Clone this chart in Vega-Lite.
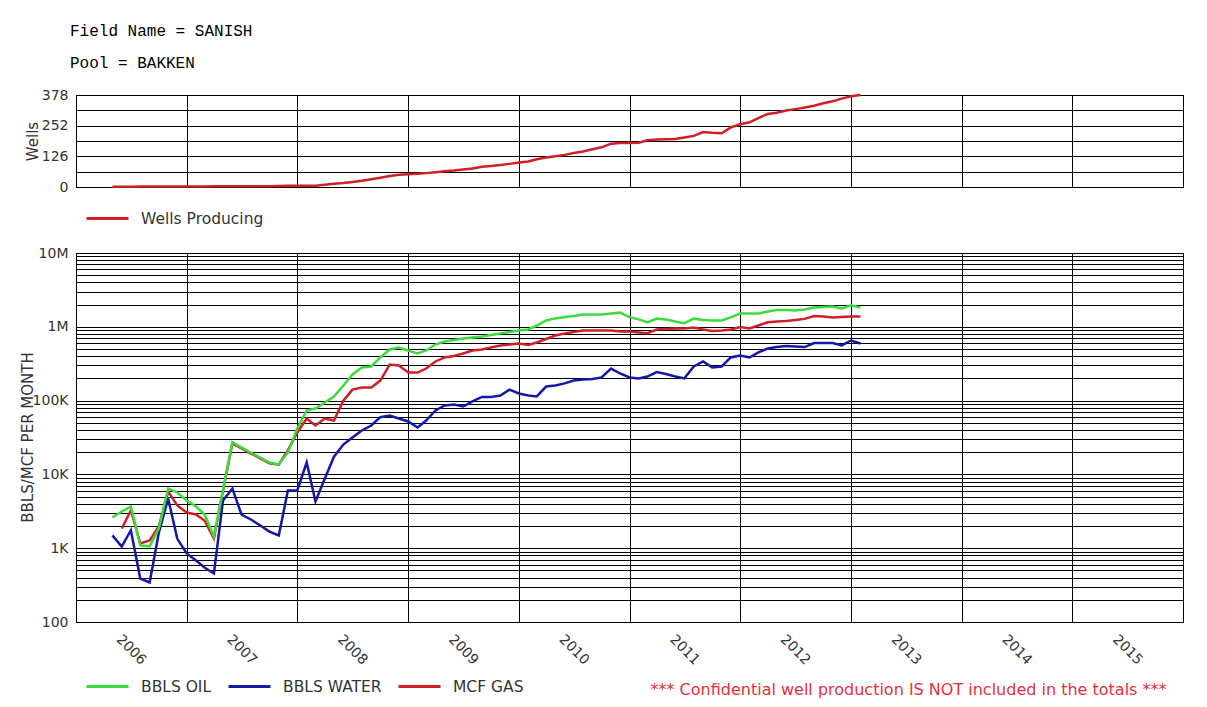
{
  "$schema": "https://vega.github.io/schema/vega-lite/v6.json",
  "background": "white",
  "padding": {"left": 19, "top": 22, "right": 20, "bottom": 5},
  "title": {"text": "Field Name = SANISH", "subtitle": "Pool = BAKKEN", "anchor": "start", "frame": "group", "font": "Liberation Mono", "fontSize": 16, "fontWeight": "normal", "color": "#000", "subtitleFont": "Liberation Mono", "subtitleFontSize": 16, "subtitleColor": "#000", "subtitlePadding": 16, "offset": 17, "dx": -6},
  "datasets": {
    "prod": [
      {"date": "2006-05-01", "oil": 2610, "gas": null, "water": 1490, "wells": 1},
      {"date": "2006-06-01", "oil": 3140, "gas": 1850, "water": 1050, "wells": 1},
      {"date": "2006-07-01", "oil": 3670, "gas": 3240, "water": 1750, "wells": 1},
      {"date": "2006-08-01", "oil": 1090, "gas": 1160, "water": 388, "wells": 2},
      {"date": "2006-09-01", "oil": 1060, "gas": 1270, "water": 343, "wells": 2},
      {"date": "2006-10-01", "oil": 1850, "gas": 1970, "water": 1600, "wells": 2},
      {"date": "2006-11-01", "oil": 6440, "gas": 5870, "water": 4720, "wells": 2},
      {"date": "2006-12-01", "oil": 5690, "gas": 3790, "water": 1350, "wells": 2},
      {"date": "2007-01-01", "oil": 4430, "gas": 3050, "water": 848, "wells": 2},
      {"date": "2007-02-01", "oil": 3670, "gas": 2870, "water": 681, "wells": 2},
      {"date": "2007-03-01", "oil": 2860, "gas": 2370, "water": 547, "wells": 2},
      {"date": "2007-04-01", "oil": 1440, "gas": 1350, "water": 454, "wells": 3},
      {"date": "2007-05-01", "oil": 6240, "gas": 6050, "water": 4430, "wells": 3},
      {"date": "2007-06-01", "oil": 27300, "gas": 26300, "water": 6440, "wells": 3},
      {"date": "2007-07-01", "oil": 23100, "gas": 22500, "water": 2860, "wells": 3},
      {"date": "2007-08-01", "oil": 19800, "gas": 19300, "water": 2450, "wells": 3},
      {"date": "2007-09-01", "oil": 16900, "gas": 16500, "water": 2030, "wells": 3},
      {"date": "2007-10-01", "oil": 14500, "gas": 14100, "water": 1680, "wells": 3},
      {"date": "2007-11-01", "oil": 13600, "gas": 13600, "water": 1490, "wells": 4},
      {"date": "2007-12-01", "oil": 19800, "gas": 21200, "water": 6050, "wells": 5},
      {"date": "2008-01-01", "oil": 41900, "gas": 37000, "water": 6050, "wells": 5},
      {"date": "2008-02-01", "oil": 73500, "gas": 57200, "water": 14500, "wells": 5},
      {"date": "2008-03-01", "oil": 78200, "gas": 46000, "water": 4300, "wells": 5},
      {"date": "2008-04-01", "oil": 94200, "gas": 57200, "water": 8790, "wells": 9},
      {"date": "2008-05-01", "oil": 113700, "gas": 53700, "water": 17400, "wells": 13},
      {"date": "2008-06-01", "oil": 160000, "gas": 100000, "water": 25400, "wells": 16},
      {"date": "2008-07-01", "oil": 226000, "gas": 141000, "water": 31600, "wells": 21},
      {"date": "2008-08-01", "oil": 281000, "gas": 150000, "water": 39400, "wells": 26},
      {"date": "2008-09-01", "oil": 290000, "gas": 150000, "water": 46000, "wells": 32},
      {"date": "2008-10-01", "oil": 384000, "gas": 187000, "water": 59600, "wells": 38},
      {"date": "2008-11-01", "oil": 493000, "gas": 308000, "water": 62800, "wells": 45},
      {"date": "2008-12-01", "oil": 525000, "gas": 299000, "water": 57200, "wells": 50},
      {"date": "2009-01-01", "oil": 478000, "gas": 240000, "water": 52100, "wells": 52},
      {"date": "2009-02-01", "oil": 435000, "gas": 240000, "water": 43200, "wells": 54},
      {"date": "2009-03-01", "oil": 478000, "gas": 272000, "water": 53700, "wells": 57},
      {"date": "2009-04-01", "oil": 575000, "gas": 339000, "water": 73500, "wells": 61},
      {"date": "2009-05-01", "oil": 632000, "gas": 384000, "water": 85900, "wells": 65},
      {"date": "2009-06-01", "oil": 662000, "gas": 402000, "water": 88600, "wells": 68},
      {"date": "2009-07-01", "oil": 694000, "gas": 435000, "water": 83200, "wells": 72},
      {"date": "2009-08-01", "oil": 716000, "gas": 478000, "water": 97300, "wells": 76},
      {"date": "2009-09-01", "oil": 739000, "gas": 493000, "water": 112000, "wells": 83},
      {"date": "2009-10-01", "oil": 775000, "gas": 525000, "water": 112000, "wells": 86},
      {"date": "2009-11-01", "oil": 812000, "gas": 559000, "water": 117000, "wells": 90},
      {"date": "2009-12-01", "oil": 851000, "gas": 575000, "water": 141000, "wells": 95},
      {"date": "2010-01-01", "oil": 891000, "gas": 594000, "water": 125000, "wells": 101},
      {"date": "2010-02-01", "oil": 919000, "gas": 567000, "water": 117000, "wells": 105},
      {"date": "2010-03-01", "oil": 1040000, "gas": 613000, "water": 114000, "wells": 114},
      {"date": "2010-04-01", "oil": 1220000, "gas": 684000, "water": 155000, "wells": 121},
      {"date": "2010-05-01", "oil": 1300000, "gas": 762000, "water": 160000, "wells": 126},
      {"date": "2010-06-01", "oil": 1360000, "gas": 812000, "water": 171000, "wells": 132},
      {"date": "2010-07-01", "oil": 1400000, "gas": 851000, "water": 187000, "wells": 140},
      {"date": "2010-08-01", "oil": 1470000, "gas": 891000, "water": 193000, "wells": 146},
      {"date": "2010-09-01", "oil": 1470000, "gas": 891000, "water": 196000, "wells": 155},
      {"date": "2010-10-01", "oil": 1470000, "gas": 891000, "water": 206000, "wells": 163},
      {"date": "2010-11-01", "oil": 1510000, "gas": 891000, "water": 272000, "wells": 178},
      {"date": "2010-12-01", "oil": 1560000, "gas": 864000, "water": 233000, "wells": 181},
      {"date": "2011-01-01", "oil": 1350000, "gas": 864000, "water": 206000, "wells": 181},
      {"date": "2011-02-01", "oil": 1260000, "gas": 838000, "water": 200000, "wells": 182},
      {"date": "2011-03-01", "oil": 1150000, "gas": 819000, "water": 212000, "wells": 192},
      {"date": "2011-04-01", "oil": 1290000, "gas": 919000, "water": 243000, "wells": 195},
      {"date": "2011-05-01", "oil": 1260000, "gas": 933000, "water": 229000, "wells": 196},
      {"date": "2011-06-01", "oil": 1180000, "gas": 948000, "water": 212000, "wells": 197},
      {"date": "2011-07-01", "oil": 1120000, "gas": 948000, "water": 200000, "wells": 203},
      {"date": "2011-08-01", "oil": 1290000, "gas": 979000, "water": 290000, "wells": 210},
      {"date": "2011-09-01", "oil": 1240000, "gas": 919000, "water": 339000, "wells": 226},
      {"date": "2011-10-01", "oil": 1220000, "gas": 878000, "water": 281000, "wells": 223},
      {"date": "2011-11-01", "oil": 1220000, "gas": 891000, "water": 290000, "wells": 221},
      {"date": "2011-12-01", "oil": 1340000, "gas": 919000, "water": 384000, "wells": 245},
      {"date": "2012-01-01", "oil": 1510000, "gas": 990000, "water": 408000, "wells": 258},
      {"date": "2012-02-01", "oil": 1510000, "gas": 948000, "water": 384000, "wells": 266},
      {"date": "2012-03-01", "oil": 1510000, "gas": 1040000, "water": 449000, "wells": 283},
      {"date": "2012-04-01", "oil": 1610000, "gas": 1150000, "water": 508000, "wells": 300},
      {"date": "2012-05-01", "oil": 1690000, "gas": 1180000, "water": 532000, "wells": 305},
      {"date": "2012-06-01", "oil": 1690000, "gas": 1200000, "water": 550000, "wells": 314},
      {"date": "2012-07-01", "oil": 1660000, "gas": 1240000, "water": 541000, "wells": 320},
      {"date": "2012-08-01", "oil": 1720000, "gas": 1280000, "water": 532000, "wells": 327},
      {"date": "2012-09-01", "oil": 1830000, "gas": 1400000, "water": 603000, "wells": 334},
      {"date": "2012-10-01", "oil": 1860000, "gas": 1380000, "water": 603000, "wells": 344},
      {"date": "2012-11-01", "oil": 1880000, "gas": 1340000, "water": 603000, "wells": 352},
      {"date": "2012-12-01", "oil": 1770000, "gas": 1360000, "water": 559000, "wells": 363},
      {"date": "2013-01-01", "oil": 1950000, "gas": 1380000, "water": 652000, "wells": 373},
      {"date": "2013-02-01", "oil": 1830000, "gas": 1380000, "water": 594000, "wells": 378}
    ]
  },
  "data": {"name": "prod"},
  "config": {
    "view": {"stroke": "#000", "strokeWidth": 1},
    "axis": {"labelFont": "DejaVu Sans", "labelFontSize": 14, "labelColor": "#333", "titleFont": "DejaVu Sans", "titleFontSize": 15, "titleColor": "#333", "titleFontWeight": "normal", "gridColor": "#000", "gridOpacity": 1, "gridWidth": 1, "ticks": false, "domain": false},
    "legend": {"labelFont": "DejaVu Sans", "labelFontSize": 15.5, "labelColor": "#333", "symbolType": "stroke", "symbolSize": 1764, "symbolStrokeWidth": 3, "padding": 0, "labelOffset": 11}
  },
  "spacing": 66,
  "bounds": "flush",
  "resolve": {"scale": {"x": "independent", "y": "independent", "color": "independent"}, "legend": {"color": "independent"}},
  "vconcat": [
    {
      "width": 1107,
      "height": 92,
      "mark": {"type": "line", "strokeWidth": 2.5},
      "encoding": {
        "x": {"field": "date", "type": "temporal",
          "scale": {"type": "utc", "domain": [{"year": 2006, "utc": true}, {"year": 2016, "utc": true}]},
          "axis": {"values": [{"year": 2006, "utc": true}, {"year": 2007, "utc": true}, {"year": 2008, "utc": true}, {"year": 2009, "utc": true}, {"year": 2010, "utc": true}, {"year": 2011, "utc": true}, {"year": 2012, "utc": true}, {"year": 2013, "utc": true}, {"year": 2014, "utc": true}, {"year": 2015, "utc": true}, {"year": 2016, "utc": true}], "labels": false, "title": null, "grid": true}},
        "y": {"field": "wells", "type": "quantitative",
          "scale": {"domain": [0, 378], "nice": false},
          "axis": {"values": [0, 63, 126, 189, 252, 315, 378], "labelExpr": "datum.value % 126 === 0 ? datum.label : ''", "labelPadding": 8, "title": "Wells", "titleX": -44, "titleY": 46, "titleBaseline": "middle", "grid": true}},
        "color": {"datum": "Wells Producing", "scale": {"domain": ["Wells Producing"], "range": ["#d01f27"]}, "legend": {"orient": "none", "legendX": 9, "legendY": 101, "title": null}}
      }
    },
    {
      "width": 1107,
      "height": 369,
      "transform": [
        {"fold": ["gas", "water", "oil"], "as": ["series", "value"]},
        {"filter": "isValid(datum.value) && datum.value > 0"}
      ],
      "encoding": {
        "x": {"field": "date", "type": "temporal",
          "scale": {"type": "utc", "domain": [{"year": 2006, "utc": true}, {"year": 2016, "utc": true}]},
          "axis": {"values": [{"year": 2006, "utc": true}, {"year": 2007, "utc": true}, {"year": 2008, "utc": true}, {"year": 2009, "utc": true}, {"year": 2010, "utc": true}, {"year": 2011, "utc": true}, {"year": 2012, "utc": true}, {"year": 2013, "utc": true}, {"year": 2014, "utc": true}, {"year": 2015, "utc": true}, {"year": 2016, "utc": true}], "format": "%Y", "labelExpr": "utcyear(datum.value) >= 2016 ? '' : datum.label", "labelAngle": 45, "labelAlign": "left", "labelBaseline": "top", "labelOffset": 47, "labelPadding": 10,
            "title": "*** Confidential well production IS NOT included in the totals ***", "titleColor": "#e8303a", "titleFont": "DejaVu Sans", "titleFontSize": 16, "titleAlign": "right", "titleAnchor": "end", "titleBaseline": "alphabetic", "titleX": 1090, "titleY": 72, "grid": true}},
        "y": {"field": "value", "type": "quantitative",
          "scale": {"type": "log", "domain": [100, 10000000], "nice": false},
          "axis": {"values": [100, 200, 300, 400, 500, 600, 700, 800, 900, 1000, 2000, 3000, 4000, 5000, 6000, 7000, 8000, 9000, 10000, 20000, 30000, 40000, 50000, 60000, 70000, 80000, 90000, 100000, 200000, 300000, 400000, 500000, 600000, 700000, 800000, 900000, 1000000, 2000000, 3000000, 4000000, 5000000, 6000000, 7000000, 8000000, 9000000, 10000000],
            "labelExpr": "datum.value === 100 ? '100' : datum.value === 1000 ? '1K' : datum.value === 10000 ? '10K' : datum.value === 100000 ? '100K' : datum.value === 1000000 ? '1M' : datum.value === 10000000 ? '10M' : ''",
            "labelPadding": 8, "title": "BBLS/MCF PER MONTH", "titleX": -49, "titleY": 184, "titleBaseline": "middle", "grid": true}},
        "color": {"field": "series", "type": "nominal",
          "scale": {"domain": ["oil", "water", "gas"], "range": ["#3cdb3c", "#1616a8", "#d01f27"]},
          "legend": {"orient": "none", "direction": "horizontal", "legendX": 9, "legendY": 411, "title": null, "columnPadding": 10, "labelExpr": "datum.label === 'oil' ? 'BBLS OIL' : datum.label === 'water' ? 'BBLS WATER' : 'MCF GAS'"}}
      },
      "layer": [
        {"transform": [{"filter": "datum.series === 'gas'"}], "mark": {"type": "line", "strokeWidth": 2.5}},
        {"transform": [{"filter": "datum.series === 'water'"}], "mark": {"type": "line", "strokeWidth": 2.5}},
        {"transform": [{"filter": "datum.series === 'oil'"}], "mark": {"type": "line", "strokeWidth": 2.5}}
      ]
    }
  ]
}
